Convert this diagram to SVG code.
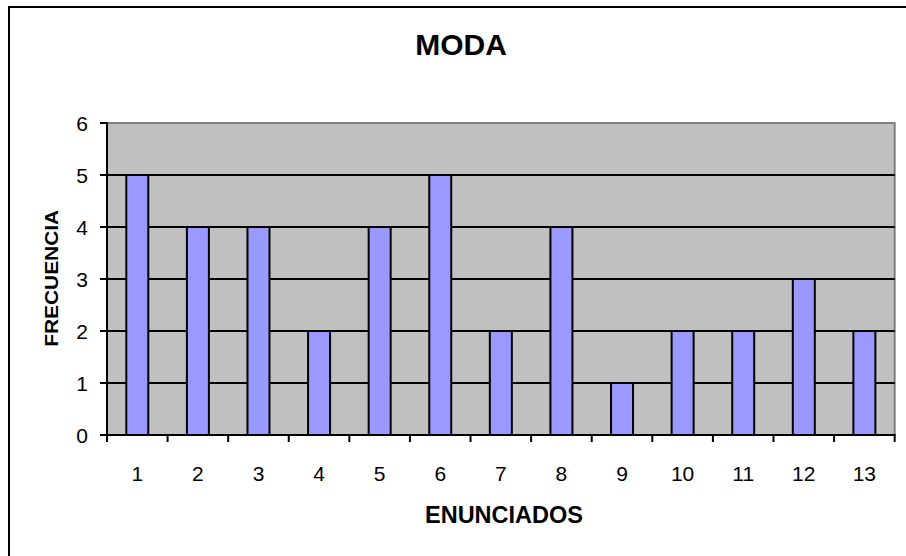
<svg xmlns="http://www.w3.org/2000/svg" width="906" height="556" viewBox="0 0 906 556">
<style>
.lbl{font-family:"Liberation Sans",Arial,sans-serif;font-size:21px;fill:#000}
.ttl{font-family:"Liberation Sans",Arial,sans-serif;font-weight:bold;fill:#000}
.grid{stroke:#000;stroke-width:2;fill:none}
.bar{fill:#9999FF;stroke:#000;stroke-width:2}
</style>
<rect x="0" y="0" width="906" height="556" fill="#fff"/>
<path d="M9,560 V7 H910" fill="none" stroke="#000" stroke-width="2"/>
<g id="title"><text class="ttl" x="461" y="55" font-size="30" text-anchor="middle">MODA</text></g>
<g id="plot-area">
<rect x="107" y="123" width="787.7" height="312" fill="#C0C0C0" stroke="#808080" stroke-width="2"/>
</g>
<g id="connectors">
<path class="grid" d="M107,175H894.7M107,227H894.7M107,279H894.7M107,331H894.7M107,383H894.7"/>
</g>
<g id="bars">
<rect id="bar1" class="bar" x="126.3" y="175" width="22" height="260"/>
<rect id="bar2" class="bar" x="186.89" y="227" width="22" height="208"/>
<rect id="bar3" class="bar" x="247.48" y="227" width="22" height="208"/>
<rect id="bar4" class="bar" x="308.07" y="331" width="22" height="104"/>
<rect id="bar5" class="bar" x="368.66" y="227" width="22" height="208"/>
<rect id="bar6" class="bar" x="429.25" y="175" width="22" height="260"/>
<rect id="bar7" class="bar" x="489.84" y="331" width="22" height="104"/>
<rect id="bar8" class="bar" x="550.43" y="227" width="22" height="208"/>
<rect id="bar9" class="bar" x="611.02" y="383" width="22" height="52"/>
<rect id="bar10" class="bar" x="671.61" y="331" width="22" height="104"/>
<rect id="bar11" class="bar" x="732.2" y="331" width="22" height="104"/>
<rect id="bar12" class="bar" x="792.79" y="279" width="22" height="156"/>
<rect id="bar13" class="bar" x="853.38" y="331" width="22" height="104"/>
</g>
<g id="axes">
<path class="grid" d="M107,122V436M106,435H895.7"/>
<path class="grid" d="M100,123H107M100,175H107M100,227H107M100,279H107M100,331H107M100,383H107M100,435H107"/>
<path class="grid" d="M107,435V442M167.59,435V442M228.18,435V442M288.77,435V442M349.36,435V442M409.95,435V442M470.54,435V442M531.13,435V442M591.72,435V442M652.31,435V442M712.9,435V442M773.49,435V442M834.08,435V442M894.67,435V442"/>
</g>
<g id="y-labels" class="lbl" text-anchor="end">
<text x="88" y="130.7">6</text>
<text x="88" y="182.7">5</text>
<text x="88" y="234.7">4</text>
<text x="88" y="286.7">3</text>
<text x="88" y="338.7">2</text>
<text x="88" y="390.7">1</text>
<text x="88" y="442.7">0</text>
</g>
<g id="x-labels" class="lbl" text-anchor="middle">
<text x="137.3" y="481">1</text>
<text x="197.89" y="481">2</text>
<text x="258.48" y="481">3</text>
<text x="319.07" y="481">4</text>
<text x="379.66" y="481">5</text>
<text x="440.25" y="481">6</text>
<text x="500.84" y="481">7</text>
<text x="561.43" y="481">8</text>
<text x="622.02" y="481">9</text>
<text x="682.61" y="481">10</text>
<text x="743.2" y="481">11</text>
<text x="803.79" y="481">12</text>
<text x="864.38" y="481">13</text>
</g>
<g id="x-title"><text class="ttl" x="504" y="523.3" font-size="23" text-anchor="middle" textLength="158" lengthAdjust="spacingAndGlyphs">ENUNCIADOS</text></g>
<g id="y-title"><text class="ttl" transform="translate(58.3,278.3) rotate(-90)" x="0" y="0" font-size="19" text-anchor="middle" textLength="137" lengthAdjust="spacingAndGlyphs">FRECUENCIA</text></g>
</svg>
